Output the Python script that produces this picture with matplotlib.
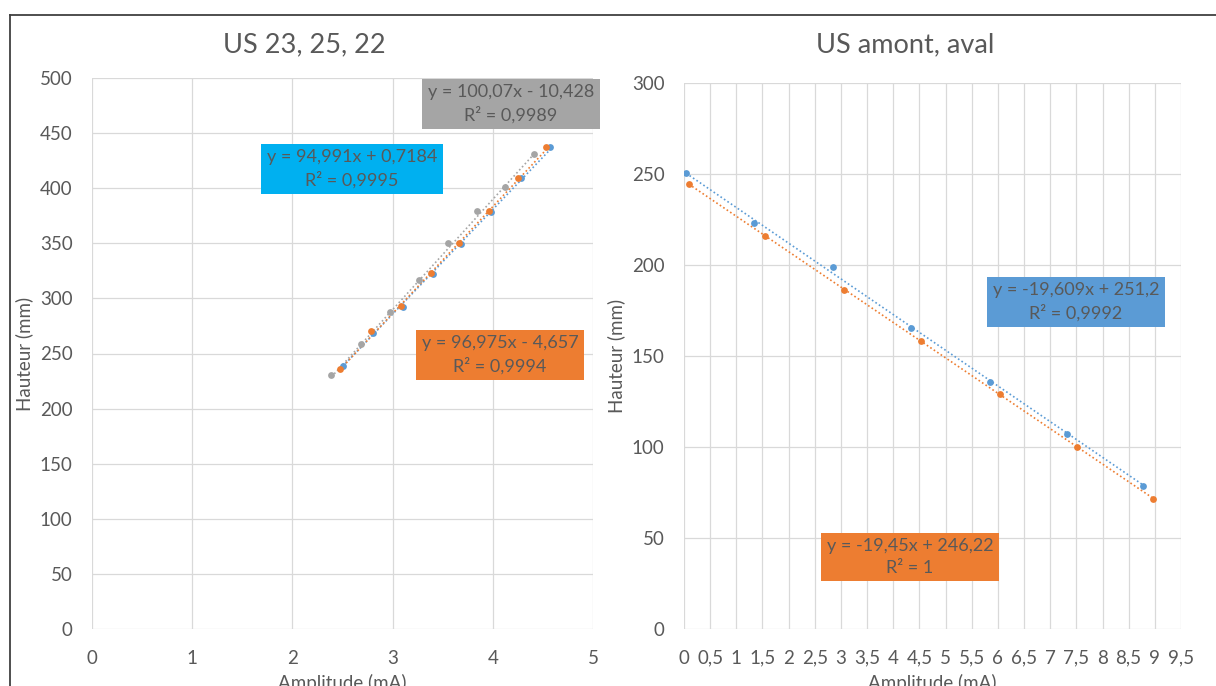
import matplotlib
import numpy as np

matplotlib.use("Agg")
import matplotlib.pyplot as plt  # noqa: E402
from matplotlib.lines import Line2D  # noqa: E402
from matplotlib.ticker import FuncFormatter, MultipleLocator  # noqa: E402

plt.rcParams["font.family"] = ["Lato", "DejaVu Sans"]

TXT = "#595959"
GRID = "#D9D9D9"
BLUE, ORANGE, GRAY = "#5B9BD5", "#ED7D31", "#A5A5A5"

# --- left chart: US 23, 25, 22 ---
us23_x = [2.50, 2.80, 3.10, 3.40, 3.68, 3.98, 4.28, 4.57]
us23_y = [239, 269, 292, 322, 349, 378, 409, 437]
us25_x = [2.48, 2.78, 3.08, 3.38, 3.66, 3.96, 4.25, 4.53]
us25_y = [235.7, 270.7, 293.4, 322.8, 350.1, 379.4, 409.0, 437.4]
us22_x = [2.39, 2.68, 2.97, 3.26, 3.55, 3.84, 4.12, 4.41]
us22_y = [230.2, 258.6, 287.7, 316.7, 350.3, 379.3, 401.4, 431.0]
left_slopes = [94.991, 96.975, 100.07]
left_inter = [0.7184, -4.657, -10.428]
left_labels = ["y = 94,991x + 0,7184\nR² = 0,9995",
               "y = 96,975x - 4,657\nR² = 0,9994",
               "y = 100,07x - 10,428\nR² = 0,9989"]

# --- right chart: US amont, aval ---
amont_x = [0.04, 1.33, 2.84, 4.34, 5.84, 7.32, 8.78]
amont_y = [250.7, 222.9, 198.9, 165.6, 135.9, 107.3, 78.4]
aval_x = [0.09, 1.54, 3.05, 4.53, 6.04, 7.51, 8.97]
aval_y = [244.7, 215.9, 186.4, 158.2, 129.1, 100.2, 71.6]
right_slopes = [-19.609, -19.45]
right_inter = [251.2, 246.22]
right_labels = ["y = -19,609x + 251,2\nR² = 0,9992",
                "y = -19,45x + 246,22\nR² = 1"]

W, H = 1216, 686
fig = plt.figure(figsize=(W / 100, H / 100), dpi=100, facecolor="white")


def px_axes(x0, y0, x1, y1):
    return fig.add_axes([x0 / W, 1 - y1 / H, (x1 - x0) / W, (y1 - y0) / H])


def comma(v, _pos=None):
    return f"{v:g}".replace(".", ",")


def style(ax):
    for s in ax.spines.values():
        s.set_visible(False)
    ax.grid(True, color=GRID, lw=0.9)
    ax.set_axisbelow(True)
    ax.tick_params(length=0, colors=TXT, labelsize=13.5)
    ax.tick_params(axis="y", pad=14)
    ax.tick_params(axis="x", pad=15)
    ax.xaxis.set_major_formatter(FuncFormatter(comma))
    ax.set_ylabel("Hauteur (mm)", color=TXT, fontsize=13.5, labelpad=5)
    ax.set_xlabel("Amplitude (mA)", color=TXT, fontsize=13.5, labelpad=5)


def series(ax, xs, ys, slope, inter, color):
    xs = np.asarray(xs)
    ax.scatter(xs, ys, s=24, color=color, zorder=3, linewidths=0)
    xl = np.array([xs.min(), xs.max()])
    ax.plot(xl, slope * xl + inter, ls=(0, (1, 1.5)), lw=1.2, color=color, zorder=2)


def box(x, y, text, fc):
    fig.text(x / W, 1 - y / H, text, ha="center", va="center", color=TXT,
             fontsize=13, linespacing=1.4, multialignment="center",
             bbox=dict(boxstyle="square,pad=0.3", fc=fc, ec="none"))


ax1 = px_axes(92, 78, 593, 629)
style(ax1)
ax1.set_xlim(0, 5)
ax1.set_ylim(0, 500)
ax1.xaxis.set_major_locator(MultipleLocator(1))
ax1.yaxis.set_major_locator(MultipleLocator(50))
for xs, ys, k, c in [(us23_x, us23_y, 0, BLUE), (us22_x, us22_y, 2, GRAY), (us25_x, us25_y, 1, ORANGE)]:
    series(ax1, xs, ys, left_slopes[k], left_inter[k], c)

ax2 = px_axes(684, 83, 1181, 629)
style(ax2)
ax2.set_xlim(0, 9.5)
ax2.set_ylim(0, 300)
ax2.xaxis.set_major_locator(MultipleLocator(0.5))
ax2.yaxis.set_major_locator(MultipleLocator(50))
series(ax2, amont_x, amont_y, right_slopes[0], right_inter[0], BLUE)
series(ax2, aval_x, aval_y, right_slopes[1], right_inter[1], ORANGE)

fig.text(304 / W, 1 - 45 / H, "US 23, 25, 22", ha="center", va="center", color=TXT, fontsize=19.5)
fig.text(905 / W, 1 - 45 / H, "US amont, aval", ha="center", va="center", color=TXT, fontsize=19.5)

box(352, 169, left_labels[0], "#00B0F0")
box(500, 355, left_labels[1], ORANGE)
box(511, 104, left_labels[2], GRAY)
box(1076, 302, right_labels[0], BLUE)
box(910, 557, right_labels[1], ORANGE)

# outer frame of the screenshot
fig.add_artist(Line2D([10 / W, 1], [1 - 15 / H] * 2, color="#404040", lw=1.3))
fig.add_artist(Line2D([10 / W] * 2, [0, 1 - 15 / H], color="#404040", lw=1.3))

fig.savefig("out.png", dpi=100, facecolor="white")
